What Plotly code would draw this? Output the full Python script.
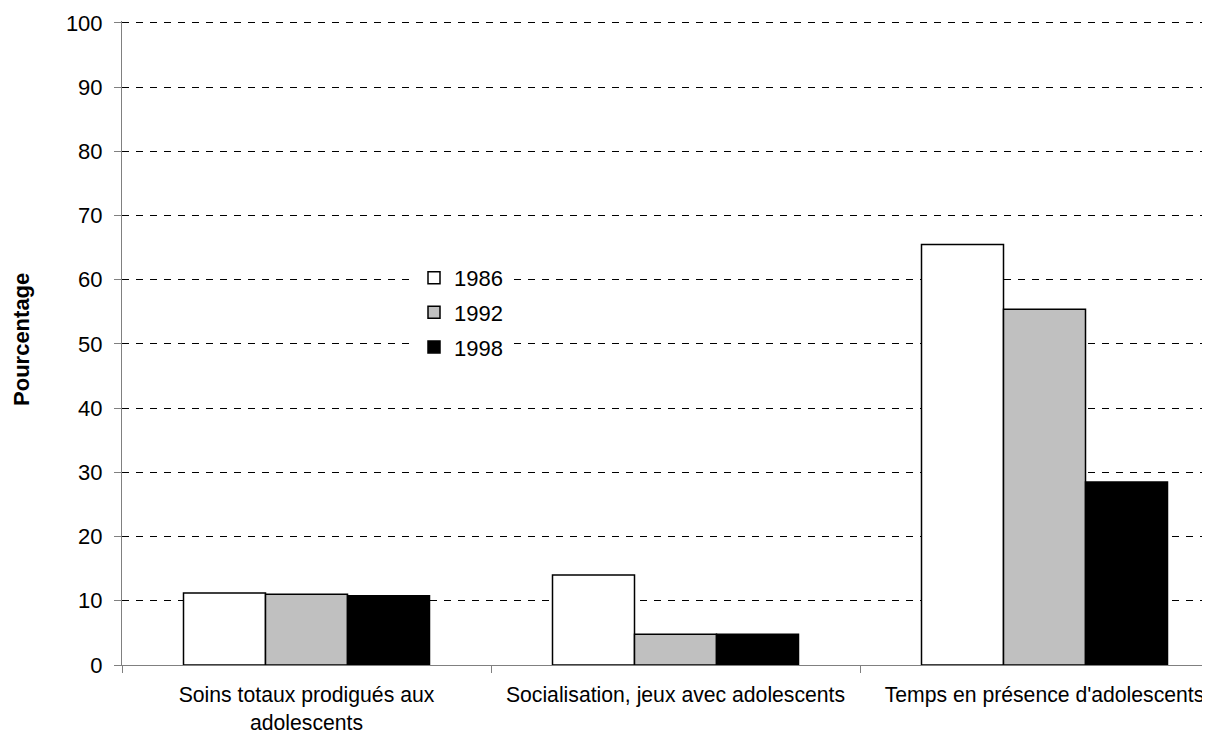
import plotly.graph_objects as go

categories = ["Soins totaux prodigués aux<br>adolescents",
              "Socialisation, jeux avec adolescents",
              "Temps en présence d'adolescents"]
years = ["1986", "1992", "1998"]
values_1986 = [11.2, 14.0, 65.5]
values_1992 = [11.0, 4.8, 55.4]
values_1998 = [10.8, 4.8, 28.5]
y_ticks = list(range(0, 101, 10))

series = [values_1986, values_1992, values_1998]
fills = ["#FFFFFF", "#C0C0C0", "#000000"]

FONT = "Liberation Sans, Arial, sans-serif"
FS = 22
FS_X = 21.2

# page has an 8px body margin; work in screen coordinates
OFF = 8
W, H = 1210 - OFF, 735 - OFF
Y_MAX = 100.3
px_per_unit = 6.42
plot_left_s, plot_bottom_s = 122, 665
plot_h = px_per_unit * Y_MAX
plot_top_s = plot_bottom_s - plot_h
L = plot_left_s - OFF
T = plot_top_s - OFF
B = H - (plot_bottom_s - OFF)
R = 0
plot_w = W - L - R
cat_px = 369.0
span = plot_w / cat_px

fig = go.Figure()
for name, vals, col in zip(years, series, fills):
    fig.add_trace(go.Bar(
        x=categories, y=vals, name=name, legendgroup=name,
        marker=dict(color=col, line=dict(color="#000000", width=1.5)),
    ))

fig.update_layout(
    width=W, height=H,
    margin=dict(l=L, r=R, t=T, b=B, autoexpand=False),
    paper_bgcolor="white", plot_bgcolor="white",
    barmode="group", bargap=1.5 / 4.5, bargroupgap=0,
    font=dict(family=FONT, size=FS, color="#000000"),
    showlegend=True,
    legend=dict(
        x=(414 - plot_left_s) / plot_w, y=(plot_bottom_s - 257) / plot_h,
        xanchor="left", yanchor="top",
        bgcolor="white", borderwidth=0,
        font=dict(size=FS), tracegroupgap=3,
    ),
    xaxis=dict(
        range=[-0.5, -0.5 + span], automargin=False,
        showline=True, linecolor="#808080", linewidth=1,
        ticks="outside", tickson="boundaries", ticklen=7, tickcolor="#808080",
        showgrid=False, zeroline=False,
        tickfont=dict(size=FS_X), ticklabelstandoff=11,
    ),
    yaxis=dict(
        range=[0, Y_MAX], tickvals=y_ticks, automargin=False,
        showline=True, linecolor="#808080", linewidth=1,
        ticks="outside", ticklen=7, tickcolor="#808080",
        showgrid=True, gridcolor="#000000", gridwidth=1, griddash="7px,7px",
        zeroline=False, tickfont=dict(size=FS), ticklabelstandoff=7,
    ),
    annotations=[dict(
        text="<b>Pourcentage</b>", xref="paper", yref="paper",
        x=(22 - plot_left_s) / plot_w, y=(plot_bottom_s - 340) / plot_h,
        xanchor="center", yanchor="middle", textangle=-90,
        showarrow=False, font=dict(size=FS, family=FONT),
    )],
)

fig.write_html("out.html")
